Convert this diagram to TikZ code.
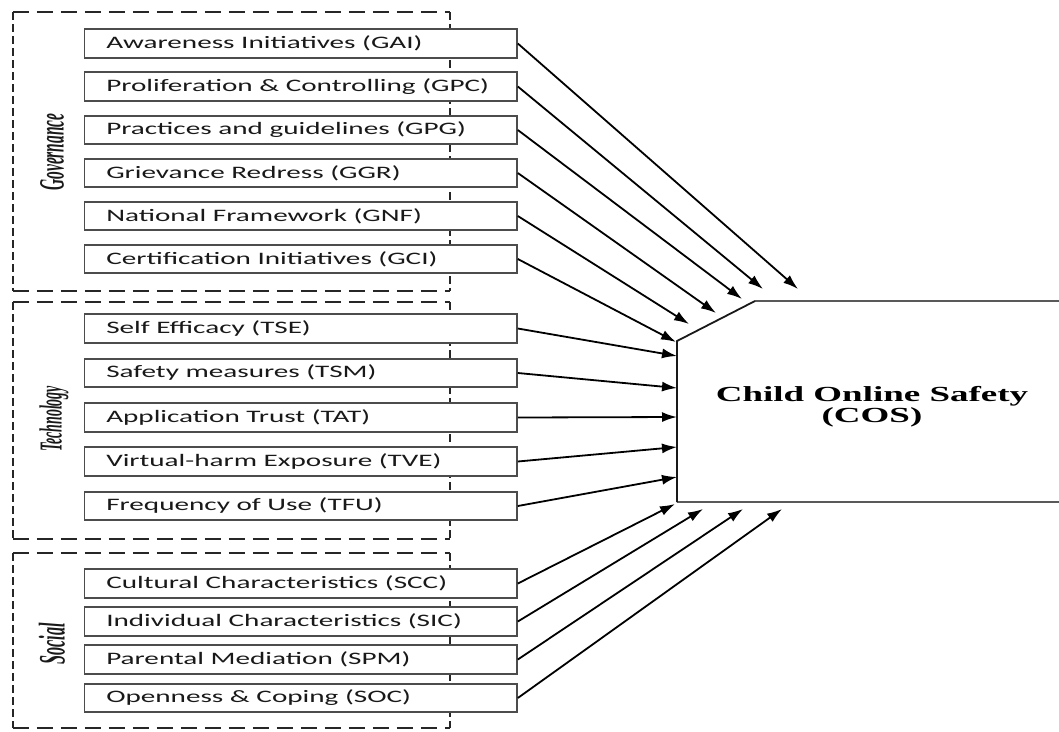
\documentclass[tikz,border=0pt]{standalone}
\usepackage{fontspec}
\setmainfont{Liberation Serif}
\newfontfamily\boxfont{Carlito}
\usetikzlibrary{arrows.meta}
\newcommand{\factortext}[1]{\makebox[432pt][l]{\hspace{21.5pt}\scalebox{1.667}[1]{\boxfont\fontsize{17.5}{20}\selectfont #1}}}
\newcommand{\grouplabel}[2]{\scalebox{1}[2.3]{\bfseries\itshape\fontsize{#1}{18}\selectfont #2}}
\newcommand{\costext}[1]{\scalebox{1.72}[1]{\bfseries\fontsize{21.5}{23}\selectfont #1}}
\begin{document}
\begin{tikzpicture}[x=1pt,y=-1pt,
  grph/.style={line width=2pt, draw=black!85, dash pattern=on 16pt off 8pt},
  grpv/.style={line width=2pt, draw=black!85, dash pattern=on 8pt off 4pt},
  factor/.style={draw=black!70, line width=1.6pt, fill=white, minimum width=432.5pt, minimum height=28.5pt, inner sep=0pt, text=black!90},
  glabel/.style={rotate=90, inner sep=0pt, text=black!90},
  arr/.style={line width=1.8pt, -{Latex[length=15pt,width=10pt]}},
  cosedge/.style={line width=1.8pt, draw=black!65},
]
\useasboundingbox (0,0) rectangle (1059,731);
\fill[white] (0,0) rectangle (1059,731);

% group frames
\draw[grph] (12.8,12) -- (450,12);
\draw[grph] (12.8,291) -- (450,291);
\draw[grpv] (12.8,12) -- (12.8,291);
\draw[grpv] (450,12) -- (450,291);
\draw[grph] (12.8,302) -- (450,302);
\draw[grph] (12.8,539) -- (450,539);
\draw[grpv] (12.8,302) -- (12.8,539);
\draw[grpv] (450,302) -- (450,539);
\draw[grph] (12.8,553) -- (450,553);
\draw[grph] (12.8,728) -- (450,728);
\draw[grpv] (12.8,553) -- (12.8,728);
\draw[grpv] (450,553) -- (450,728);

% group labels
\node[glabel] (lgov) at (52,152) {\grouplabel{15.4}{Governance}};
\node[glabel] (ltech) at (54,419) {\grouplabel{13.9}{Technology}};
\node[glabel] (lsoc) at (52,644) {\grouplabel{16.2}{Social}};

% factor boxes
\node[factor] (gai) at (300.75,43.5) {\factortext{Awareness Initiatives (GAI)}};
\node[factor] (gpc) at (300.75,86.5) {\factortext{Proliferation \& Controlling (GPC)}};
\node[factor] (gpg) at (300.75,130) {\factortext{Practices and guidelines (GPG)}};
\node[factor] (ggr) at (300.75,173) {\factortext{Grievance Redress (GGR)}};
\node[factor] (gnf) at (300.75,216) {\factortext{National Framework (GNF)}};
\node[factor] (gci) at (300.75,259) {\factortext{Certification Initiatives (GCI)}};

\node[factor] (tse) at (300.75,328.5) {\factortext{Self Efficacy (TSE)}};
\node[factor] (tsm) at (300.75,373) {\factortext{Safety measures (TSM)}};
\node[factor] (tat) at (300.75,417.5) {\factortext{Application Trust (TAT)}};
\node[factor] (tve) at (300.75,461.5) {\factortext{Virtual-harm Exposure (TVE)}};
\node[factor] (tfu) at (300.75,506) {\factortext{Frequency of Use (TFU)}};

\node[factor] (scc) at (300.75,583.5) {\factortext{Cultural Characteristics (SCC)}};
\node[factor] (sic) at (300.75,621.5) {\factortext{Individual Characteristics (SIC)}};
\node[factor] (spm) at (300.75,659.5) {\factortext{Parental Mediation (SPM)}};
\node[factor] (soc) at (300.75,698) {\factortext{Openness \& Coping (SOC)}};

% COS shape
\coordinate (ca) at (677,341);
\coordinate (cb) at (755,301);
\coordinate (cc) at (1062,301);
\coordinate (cd) at (677,502);
\coordinate (ce) at (1062,502);
\draw[cosedge] (cb) -- (cc);
\draw[cosedge] (cd) -- (ce);
\draw[line width=1.8pt, draw=black!90] (cb) -- (ca) -- (cd);
\node[align=center, inner sep=0pt] (cos) at (872,406.5) {\costext{Child Online Safety}\\\costext{(COS)}};

% arrow tips
\coordinate (t1) at (798,289);
\coordinate (t2) at (763,289);
\coordinate (t3) at (742,299);
\coordinate (t4) at (716,313);
\coordinate (t5) at (689,324);
\coordinate (t6) at (676,342);
\coordinate (t7) at (677,356);
\coordinate (t8) at (677,388);
\coordinate (t9) at (677,417);
\coordinate (t10) at (677,447);
\coordinate (t11) at (677,477);
\coordinate (t12) at (675,504);
\coordinate (t13) at (703,509);
\coordinate (t14) at (743,509);
\coordinate (t15) at (782,509);

\draw[arr] (gai.east) -- (t1);
\draw[arr] (gpc.east) -- (t2);
\draw[arr] (gpg.east) -- (t3);
\draw[arr] (ggr.east) -- (t4);
\draw[arr] (gnf.east) -- (t5);
\draw[arr] (gci.east) -- (t6);
\draw[arr] (tse.east) -- (t7);
\draw[arr] (tsm.east) -- (t8);
\draw[arr] (tat.east) -- (t9);
\draw[arr] (tve.east) -- (t10);
\draw[arr] (tfu.east) -- (t11);
\draw[arr] (scc.east) -- (t12);
\draw[arr] (sic.east) -- (t13);
\draw[arr] (spm.east) -- (t14);
\draw[arr] (soc.east) -- (t15);
\end{tikzpicture}
\end{document}
